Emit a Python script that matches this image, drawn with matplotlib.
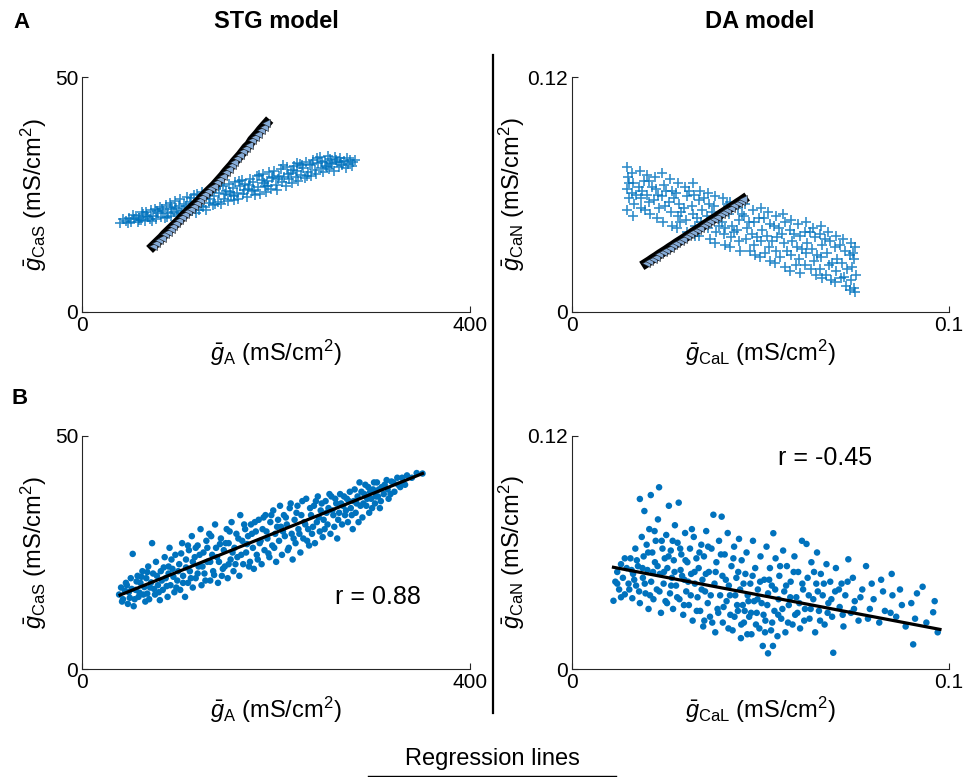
import matplotlib
matplotlib.use("Agg")
import matplotlib.pyplot as plt
import numpy as np

plt.rcParams['font.family'] = ['Liberation Sans', 'DejaVu Sans']
plt.rcParams['mathtext.fontset'] = 'custom'
plt.rcParams['mathtext.rm'] = 'Liberation Sans'
plt.rcParams['mathtext.it'] = 'Liberation Sans:italic'

BLUE = '#0072BD'
TRI_FACE = '#86acd8'

# ---------------- data: panel A, STG model (crosses) ----------------
stg_cross = [(39,19.0),(45,19.4),(48,20.0),(50,19.2),(53,19.8),(55,20.4),(57,19.1),(59,20.0),(61,19.6),(63,20.8),
 (65,19.3),(66,21.2),(68,20.1),(70,19.7),(71,21.6),(73,20.4),(75,22.0),(76,19.8),(78,21.0),(80,22.4),(81,20.3),
 (83,21.5),(85,19.9),(86,22.8),(88,21.0),(90,23.1),(91,20.5),(93,22.0),(95,21.3),(96,23.6),(98,20.8),(100,22.5),
 (101,24.0),(103,21.5),(105,23.0),(106,20.9),(108,24.4),(110,22.2),(111,23.5),(113,21.4),(115,24.8),(116,22.7),
 (118,25.2),(120,21.8),(121,23.9),(123,25.5),(125,22.4),(126,24.3),(128,21.6),(130,25.0),(131,23.2),(133,26.0),
 (135,22.8),(136,24.7),(138,26.4),(140,23.5),(141,25.3),(143,22.9),(145,26.8),(146,24.1),(148,25.8),(150,23.6),
 (151,27.2),(153,24.9),(155,26.3),(156,23.8),(158,27.6),(160,25.4),(161,24.0),(163,26.9),(165,28.0),(166,25.1),
 (168,27.3),(170,24.4),(171,26.2),(173,28.4),(175,25.7),(176,27.7),(178,24.8),(180,28.9),(181,26.5),(183,25.2),
 (185,28.1),(186,29.4),(188,26.8),(190,25.6),(191,27.9),(193,29.8),(195,26.2),(196,28.5),(198,30.1),(200,27.1),
 (201,26.0),(203,29.0),(205,30.4),(206,27.6),(208,28.8),(210,26.9),(211,30.8),(213,28.2),(215,29.6),(216,27.4),
 (218,31.1),(220,28.7),(221,30.0),(223,27.9),(225,31.5),(226,29.2),(228,30.6),(230,28.5),(231,32.0),(233,29.9),
 (235,31.2),(236,28.9),(238,32.4),(240,30.3),(241,29.4),(243,31.8),(245,33.0),(246,30.7),(248,29.8),(250,32.2),
 (251,31.0),(253,33.2),(255,30.4),(256,32.6),(258,31.5),(260,30.1),(261,33.0),(263,31.9),(265,30.8),(266,32.8),
 (268,31.3),(270,32.1),(272,30.7),(274,31.6),(276,32.3),(278,31.1),(281,32.4),
 (42,19.8),(47,18.9),(52,20.6),(58,19.5),(62,21.2),(67,20.4),(72,19.4),(77,21.5),(82,21.9),(87,20.2),(92,22.4),
 (97,22.2),(102,21.0),(107,22.6),(112,24.2),(117,21.1),(122,22.6),(127,24.9),(132,24.0),(137,23.0),(142,27.0),
 (147,25.2),(152,25.6),(157,24.6),(162,27.8),(167,26.0),(172,27.0),(177,25.9),(182,29.2),(187,27.4),(192,26.8),
 (197,28.8),(202,28.3),(207,31.2),(212,29.4),(217,30.2),(222,31.7),(227,31.2),(232,29.0),(237,31.6),(242,32.7),
 (247,32.0),(252,30.9),(257,31.8),(262,32.3),(267,31.9),(273,32.8),(279,32.0)]

stg_tri_x = [73,76,79,82,85,88,91,94,97,100,103,106,109,112,115,118,121,124,127,130,133,136,139,142,145,148,
             151,154,157,160,163,166,169,172,175,178,181,184,187,190]
stg_tri_y = [14.0,14.6,15.2,15.8,16.5,17.1,17.7,18.3,18.9,19.5,20.2,20.8,21.4,22.0,22.6,23.2,23.8,24.5,25.1,25.7,
             26.3,26.9,27.6,28.3,29.0,29.8,30.5,31.2,32.0,32.7,33.4,34.2,35.0,35.6,36.6,37.3,38.0,38.8,39.5,40.2]

# ---------------- data: panel A, DA model (crosses) ----------------
da_cross = [(0.0145,0.074),(0.0148,0.069),(0.0146,0.063),(0.0150,0.058),(0.0147,0.052),
 (0.0160,0.071),(0.0163,0.066),(0.0158,0.061),(0.0165,0.055),(0.0161,0.049),
 (0.0180,0.072),(0.0178,0.064),(0.0184,0.058),(0.0182,0.053),
 (0.0200,0.070),(0.0205,0.067),(0.0198,0.060),(0.0203,0.056),(0.0207,0.050),
 (0.0220,0.069),(0.0224,0.063),(0.0218,0.057),(0.0226,0.048),
 (0.0240,0.071),(0.0243,0.065),(0.0238,0.059),(0.0246,0.054),(0.0241,0.046),
 (0.0260,0.068),(0.0264,0.062),(0.0257,0.056),(0.0262,0.051),(0.0266,0.044),
 (0.0280,0.066),(0.0276,0.061),(0.0284,0.055),(0.0281,0.049),(0.0278,0.043),
 (0.0300,0.064),(0.0304,0.059),(0.0297,0.053),(0.0302,0.047),(0.0306,0.041),
 (0.0320,0.066),(0.0324,0.060),(0.0317,0.054),(0.0322,0.050),(0.0326,0.044),
 (0.0340,0.062),(0.0336,0.057),(0.0344,0.052),(0.0341,0.046),(0.0338,0.039),
 (0.0360,0.061),(0.0364,0.055),(0.0357,0.049),(0.0362,0.043),(0.0366,0.037),
 (0.0380,0.059),(0.0377,0.054),(0.0384,0.048),(0.0381,0.041),(0.0378,0.035),
 (0.0400,0.058),(0.0404,0.052),(0.0397,0.046),(0.0402,0.040),(0.0406,0.034),
 (0.0420,0.056),(0.0417,0.050),(0.0424,0.044),(0.0421,0.038),(0.0418,0.033),
 (0.0440,0.053),(0.0444,0.047),(0.0437,0.042),(0.0442,0.036),(0.0446,0.031),
 (0.0460,0.055),(0.0457,0.049),(0.0464,0.043),(0.0461,0.037),
 (0.0480,0.052),(0.0484,0.046),(0.0477,0.040),(0.0482,0.034),(0.0486,0.029),
 (0.0500,0.053),(0.0497,0.048),(0.0504,0.042),(0.0501,0.036),(0.0498,0.028),
 (0.0520,0.051),(0.0524,0.045),(0.0517,0.039),(0.0522,0.033),(0.0526,0.026),
 (0.0540,0.049),(0.0537,0.044),(0.0544,0.038),(0.0541,0.031),(0.0538,0.025),
 (0.0560,0.050),(0.0564,0.046),(0.0557,0.040),(0.0562,0.035),(0.0566,0.023),
 (0.0580,0.047),(0.0577,0.042),(0.0584,0.036),(0.0581,0.029),(0.0578,0.021),
 (0.0600,0.045),(0.0604,0.039),(0.0597,0.033),(0.0602,0.027),(0.0606,0.020),
 (0.0620,0.046),(0.0617,0.041),(0.0624,0.035),(0.0621,0.030),(0.0618,0.024),
 (0.0640,0.043),(0.0644,0.038),(0.0637,0.032),(0.0642,0.026),(0.0646,0.019),
 (0.0660,0.044),(0.0657,0.040),(0.0664,0.034),(0.0661,0.028),(0.0658,0.022),(0.0663,0.017),
 (0.0680,0.041),(0.0684,0.036),(0.0677,0.030),(0.0682,0.024),(0.0686,0.016),
 (0.0700,0.039),(0.0697,0.033),(0.0704,0.027),(0.0701,0.021),(0.0698,0.015),
 (0.0720,0.037),(0.0724,0.031),(0.0717,0.025),(0.0722,0.018),(0.0726,0.013),
 (0.0740,0.035),(0.0737,0.029),(0.0744,0.023),(0.0741,0.016),(0.0738,0.011),
 (0.0750,0.033),(0.0748,0.027),(0.0752,0.019),(0.0749,0.012),(0.0751,0.010),
 (0.0152,0.066),(0.0170,0.060),(0.0190,0.067),(0.0194,0.052),(0.0213,0.064),(0.0231,0.053),(0.0250,0.062),
 (0.0271,0.058),(0.0290,0.051),(0.0311,0.062),(0.0331,0.048),(0.0350,0.058),(0.0372,0.051),(0.0390,0.044),
 (0.0410,0.055),(0.0430,0.041),(0.0450,0.050),(0.0470,0.046),(0.0490,0.038),(0.0510,0.048),(0.0530,0.036),
 (0.0550,0.043),(0.0570,0.031),(0.0590,0.040),(0.0610,0.032),(0.0630,0.041),(0.0650,0.029),(0.0670,0.037),
 (0.0690,0.025),(0.0710,0.034),(0.0730,0.022),(0.0745,0.030),(0.0473,0.031),(0.0513,0.030),(0.0553,0.028),
 (0.0593,0.024),(0.0633,0.022),(0.0673,0.019),(0.0713,0.017),(0.0287,0.046),(0.0327,0.039),(0.0367,0.046),
 (0.0407,0.043),(0.0227,0.060),(0.0187,0.062)]

da_tri_x = [0.0196,0.0205,0.0214,0.0223,0.0232,0.0241,0.0250,0.0259,0.0268,0.0277,0.0286,0.0295,0.0304,0.0313,
            0.0322,0.0331,0.0340,0.0349,0.0358,0.0367,0.0376,0.0385,0.0394,0.0403,0.0412,0.0421,0.0430,0.0439,
            0.0448,0.0454]
da_tri_y = [0.0248,0.0259,0.0271,0.0282,0.0294,0.0305,0.0316,0.0328,0.0339,0.0351,0.0362,0.0373,0.0385,0.0396,
            0.0408,0.0419,0.0430,0.0442,0.0453,0.0465,0.0476,0.0487,0.0499,0.0510,0.0522,0.0533,0.0544,0.0556,
            0.0567,0.0575]

# ---------------- data: panel B, STG model (dots) ----------------
stg_dots = [(38,16),(40,17.5),(42,15),(45,18.5),(47,14),(48,16.5),(50,19.5),(52,24.7),(53,13.5),
 (55,17),(57,20),(58,15.5),(60,18.5),(62,21),(63,16),(65,14.5),(66,19.5),(68,22),(70,17.5),(72,27),(69,15),
 (73,20.5),(75,16),(76,23),(78,18),(80,14.8),(81,21),(83,17),(85,24),(86,19.5),(88,15.5),(89,22),(90,26),
 (91,18),(93,21.5),(95,16.5),(96,24.5),(98,19),(100,22.5),(101,17),(103,27),(104,20),(106,15.5),(107,23.5),(109,18.5),(110,25.5),
 (111,21),(113,28.5),(114,17.5),(116,24),(117,19.5),(119,26.5),(120,22),(122,30),(123,18),(125,25),(126,20.5),(128,27.5),(129,23),
 (131,29),(132,19),(134,24.5),(135,21),(137,31),(138,26),(140,18.5),(141,23),(143,28),(144,20),(146,25.5),(147,22),(149,30),(150,19.5),
 (151,27),(153,23.5),(154,31.5),(156,21),(157,26),(159,29),(160,24),(162,20),(163,33),(165,27.5),(166,22.5),(168,30),(169,25),
 (171,28.5),(173,23),(174,31),(176,26),(177,21.5),(179,29.5),(180,24.5),(182,32),(183,27),(185,22.5),(186,30),(188,25.5),(189,33),
 (191,28),(193,24),(194,31.5),(196,26.5),(197,34),(199,29),(200,23),(202,32),(203,27.5),(205,30.5),(206,24.5),(208,33),(209,28.5),
 (211,31),(213,26),(214,34.5),(216,29),(217,23.5),(219,32),(220,27),(222,35),(223,30),(225,25),(226,33),(228,28),(229,31.5),
 (231,36.5),(233,30),(234,26.5),(236,33),(237,29),(239,35),(240,27),(242,31.5),(243,37),(245,29.5),(246,34),(248,28.3),(249,32),
 (251,36),(253,31),(254,34.5),(256,29),(257,37),(259,33),(260,30.5),(262,35.5),(263,28),(265,33.5),(266,37.5),(268,31),(269,35),
 (271,33),(273,36.5),(274,31.5),(276,38),(277,34.5),(279,30),(280,36),(282,33.5),(284,37),(286,40),(287,35),(289,32.5),
 (291,37.5),(293,35),(295,39),(296,33.5),(298,36.5),(300,38.5),(302,35.5),(304,40),(305,37),(307,34.5),(309,39),
 (311,37.5),(314,40.5),(316,36.5),(319,40.2),(322,38),(325,41),(328,39),(331,40),(335,41.5),(340,41),(345,42),(351,41.9),
 (41,14.5),(44,16.8),(46,18),(49,15.3),(51,17.2),(54,15),(56,18.8),(59,16.4),(61,19.8),(64,17.6),(67,16.2),(67,20.8),
 (71,18.6),(74,17.2),(77,20),(79,16.5),(82,19),(84,21.8),(87,17.8),(89,20.5),(92,23.5),(94,19.8),(97,17.5),(99,21),
 (102,24.8),(104,18.5),(107,21.8),(109,26.5),(112,19.5),(114,23),(117,26),(119,20.5),(121,24.5),(124,22),(127,19),
 (129,26),(132,23),(133,28.5),(136,20.2),(139,24),(142,26.8),(145,21.5),(148,27),(151,22.5),(152,29.5),(155,25),
 (158,22.5),(161,28),(164,24.5),(167,31),(170,26.8),(172,22),(175,29),(178,31.5),(181,23.5),(184,27.5),(187,32.5),
 (190,29.5),(192,24.8),(195,33),(198,26),(201,30.5),(204,35),(207,29.5),(210,32.5),(212,25.5),(215,35.5),(218,28),
 (221,33.5),(224,29),(227,36),(230,31),(232,27.5),(235,34.5),(238,30.5),(241,36),(244,32.5),(247,35.5),(250,30),
 (252,33.5),(255,37.5),(258,34),(261,36.5),(264,32),(267,35.5),(270,37),(272,34),(275,36),(278,33),(281,38.5),
 (283,35.5),(285,31.5),(288,38),(290,35.5),(292,39.5),(294,36.5),(297,38),(299,34.5),(301,40),(303,37),(306,38.5),
 (308,36),(312,39.5),(315,38.5),(318,37.5),(321,40),(326,39.5),(330,41),(333,39.5)]
stg_fit_x = [39, 351]
stg_fit_y = [15.9, 41.9]
stg_r = 'r = 0.88'

# ---------------- data: panel B, DA model (dots) ----------------
da_dots = [(0.011,0.0352),(0.0115,0.045),(0.012,0.050),(0.0125,0.041),(0.013,0.054),(0.0135,0.047),(0.014,0.0385),(0.0145,0.052),(0.015,0.044),
 (0.0155,0.057),(0.016,0.0365),(0.0162,0.049),(0.0168,0.062),(0.017,0.043),(0.0175,0.053),(0.018,0.0875),(0.018,0.034),(0.0185,0.068),(0.0188,0.047),(0.019,0.058),(0.0192,0.0813),(0.0195,0.039),(0.0198,0.064),
 (0.0200,0.051),(0.0203,0.031),(0.0205,0.072),(0.0209,0.0895),(0.021,0.045),(0.0213,0.060),(0.0216,0.036),(0.022,0.055),(0.0222,0.066),(0.0225,0.041),(0.0228,0.077),(0.0231,0.0935),(0.0233,0.049),(0.0236,0.029),(0.024,0.062),(0.0243,0.044),(0.0246,0.057),(0.0248,0.035),
 (0.025,0.069),(0.0253,0.052),(0.0257,0.084),(0.026,0.039),(0.0262,0.061),(0.0265,0.047),(0.0268,0.031),(0.027,0.056),(0.0273,0.074),(0.0276,0.043),(0.028,0.065),(0.0283,0.0856),(0.0285,0.036),(0.0288,0.051),(0.029,0.059),(0.0295,0.028),(0.0298,0.046),
 (0.030,0.070),(0.0303,0.040),(0.0306,0.055),(0.031,0.033),(0.0313,0.062),(0.0316,0.049),(0.032,0.025),(0.0323,0.068),(0.0326,0.044),(0.033,0.057),(0.0333,0.037),(0.0336,0.052),(0.034,0.030),(0.0343,0.064),(0.0346,0.046),(0.0348,0.022),
 (0.035,0.058),(0.0353,0.040),(0.0356,0.071),(0.036,0.034),(0.0363,0.050),(0.0366,0.027),(0.037,0.062),(0.0375,0.0794),(0.0378,0.044),(0.038,0.019),(0.0383,0.055),(0.0386,0.031),(0.039,0.066),(0.0393,0.038),(0.0397,0.0784),(0.0399,0.048),
 (0.040,0.024),(0.0405,0.059),(0.041,0.035),(0.0413,0.070),(0.0416,0.043),(0.042,0.028),(0.0423,0.053),(0.0426,0.020),(0.043,0.063),(0.0433,0.038),(0.0436,0.047),(0.044,0.030),(0.0443,0.067),(0.0446,0.041),(0.0448,0.016),
 (0.045,0.056),(0.0453,0.033),(0.0456,0.024),(0.046,0.049),(0.0463,0.060),(0.0466,0.038),(0.047,0.027),(0.0473,0.044),(0.0476,0.018),(0.048,0.066),(0.0483,0.035),(0.0486,0.052),(0.049,0.029),(0.0493,0.041),(0.0497,0.021),
 (0.050,0.058),(0.0503,0.034),(0.0506,0.012),(0.051,0.046),(0.0513,0.025),(0.0516,0.063),(0.052,0.0082),(0.052,0.039),(0.0525,0.052),(0.0528,0.020),(0.053,0.043),(0.0534,0.0699),(0.0537,0.030),(0.054,0.057),(0.0545,0.017),(0.0548,0.036),
 (0.055,0.048),(0.0555,0.026),(0.056,0.061),(0.0563,0.040),(0.0566,0.019),(0.057,0.053),(0.0575,0.033),(0.058,0.045),(0.0585,0.023),(0.059,0.058),(0.0595,0.037),(0.0598,0.029),
 (0.060,0.050),(0.0605,0.021),(0.061,0.066),(0.0613,0.041),(0.0618,0.031),(0.0622,0.0644),(0.0625,0.047),(0.063,0.026),(0.0635,0.055),(0.064,0.036),(0.0645,0.019),(0.0648,0.044),
 (0.065,0.060),(0.0655,0.030),(0.066,0.049),(0.0665,0.038),(0.067,0.023),(0.0675,0.054),(0.068,0.034),(0.0685,0.045),(0.0693,0.0085),(0.069,0.027),(0.0698,0.040),
 (0.070,0.052),(0.071,0.032),(0.0715,0.044),(0.072,0.022),(0.0725,0.038),(0.0733,0.0565),(0.074,0.029),(0.0745,0.047),(0.075,0.035),(0.076,0.025),(0.077,0.041),(0.078,0.053),(0.079,0.031),
 (0.080,0.036),(0.0815,0.024),(0.082,0.046),(0.083,0.030),(0.0848,0.049),(0.085,0.038),(0.086,0.027),(0.087,0.041),(0.0885,0.022),(0.09,0.034),(0.0905,0.0128),(0.091,0.026),(0.093,0.0424),(0.094,0.024),(0.0958,0.0293),(0.097,0.019),
 (0.012,0.044),(0.013,0.037),(0.014,0.057),(0.0152,0.041),(0.0158,0.051),(0.0165,0.046),(0.0172,0.056),(0.0178,0.040),(0.0187,0.052),
 (0.0193,0.044),(0.0202,0.060),(0.0207,0.038),(0.0215,0.050),(0.0219,0.071),(0.0227,0.053),(0.0232,0.040),(0.0238,0.066),(0.0244,0.050),
 (0.0252,0.034),(0.0256,0.058),(0.0263,0.043),(0.0267,0.066),(0.0272,0.050),(0.0279,0.037),(0.0287,0.062),(0.0292,0.048),(0.0297,0.033),
 (0.0301,0.056),(0.0308,0.045),(0.0315,0.038),(0.0318,0.072),(0.0325,0.050),(0.0331,0.030),(0.0338,0.060),(0.0344,0.041),(0.0351,0.025),
 (0.0355,0.049),(0.0361,0.063),(0.0368,0.038),(0.0372,0.024),(0.0381,0.050),(0.0388,0.029),(0.0395,0.059),(0.0402,0.032),(0.0408,0.046),
 (0.0415,0.021),(0.0419,0.038),(0.0428,0.057),(0.0431,0.027),(0.0438,0.033),(0.0441,0.050),(0.0449,0.023),(0.0455,0.044),(0.0458,0.030),
 (0.0465,0.018),(0.0468,0.035),(0.0475,0.029),(0.0479,0.048),(0.0488,0.023),(0.0492,0.036),(0.0499,0.045),(0.0508,0.028),(0.0512,0.019),
 (0.0518,0.033),(0.0523,0.046),(0.0531,0.024),(0.0533,0.012),(0.0539,0.041),(0.0547,0.028),(0.0552,0.053),(0.0558,0.031),(0.0568,0.043),
 (0.0573,0.024),(0.0579,0.037),(0.0588,0.050),(0.0592,0.028),(0.0603,0.034),(0.0611,0.044),(0.0616,0.025),(0.0628,0.038),(0.0633,0.031),
 (0.0642,0.050),(0.0652,0.040),(0.0658,0.025),(0.0668,0.044),(0.0678,0.029),(0.0688,0.036),(0.0708,0.041),(0.0718,0.028),(0.0731,0.045),
 (0.0748,0.031),(0.0765,0.037),(0.0785,0.026),(0.0795,0.044),(0.0825,0.040),(0.0845,0.029),(0.0875,0.033),(0.0915,0.039),(0.0962,0.035)]
da_fit_x = [0.011, 0.0976]
da_fit_y = [0.0524, 0.0205]
da_r = 'r = -0.45'

stg_xlim, stg_ylim = (0, 400), (0, 50)
da_xlim, da_ylim = (0, 0.1), (0, 0.12)
stg_xticks, stg_yticks = [0, 400], [0, 50]
da_xticks, da_yticks = [0, 0.1], [0, 0.12]
stg_xticklabels, stg_yticklabels = ['0', '400'], ['0', '50']
da_xticklabels, da_yticklabels = ['0', '0.1'], ['0', '0.12']

stg_xlabel = r'$\bar{g}_{\rm A}$ (mS/cm$^2$)'
stg_ylabel = r'$\bar{g}_{\rm CaS}$ (mS/cm$^2$)'
da_xlabel = r'$\bar{g}_{\rm CaL}$ (mS/cm$^2$)'
da_ylabel = r'$\bar{g}_{\rm CaN}$ (mS/cm$^2$)'

# ---------------- figure ----------------
fig = plt.figure(figsize=(9.65, 7.77), dpi=100)
W, H = 965, 777
def ax_at(x0, x1, y0, y1):
    return fig.add_axes([x0 / W, 1 - y1 / H, (x1 - x0) / W, (y1 - y0) / H])

axA1 = ax_at(82.3, 470, 77.3, 311.7)
axA2 = ax_at(572, 949, 77.3, 311.7)
axB1 = ax_at(82.3, 470, 435.7, 669.3)
axB2 = ax_at(572, 949, 435.7, 669.3)

def style(ax, xlim, ylim, xt, yt, xtl, ytl, xl, yl, ypad):
    ax.set_xlim(*xlim); ax.set_ylim(*ylim)
    ax.set_xticks(xt); ax.set_yticks(yt)
    ax.set_xticklabels(xtl); ax.set_yticklabels(ytl)
    for s in ['top', 'right']:
        ax.spines[s].set_visible(False)
    for s in ['left', 'bottom']:
        ax.spines[s].set_color('#262626')
        ax.spines[s].set_linewidth(0.8)
    ax.tick_params(direction='in', length=4, width=0.8, colors='#262626',
                   labelsize=15, labelcolor='black', pad=3)
    ax.set_xlabel(xl, fontsize=17, labelpad=2)
    ax.set_ylabel(yl, fontsize=17, labelpad=ypad)

def tri_chain(ax, xs, ys):
    ax.plot(xs, ys, color='black', lw=7, solid_capstyle='projecting', zorder=3)
    ax.plot(xs, ys, linestyle='none', marker='<', markersize=5.5,
            markerfacecolor=TRI_FACE, markeredgecolor='#1a1a1a', markeredgewidth=0.4, zorder=4)

# Panel A STG
sx, sy = zip(*stg_cross)
axA1.scatter(sx, sy, marker='+', s=45, color=BLUE, linewidths=1.2, alpha=0.8, zorder=2)
tri_chain(axA1, stg_tri_x, stg_tri_y)
style(axA1, stg_xlim, stg_ylim, stg_xticks, stg_yticks, stg_xticklabels, stg_yticklabels, stg_xlabel, stg_ylabel, 4)

# Panel A DA
dx, dy = zip(*da_cross)
axA2.scatter(dx, dy, marker='+', s=60, color=BLUE, linewidths=1.2, alpha=0.8, zorder=2)
tri_chain(axA2, da_tri_x, da_tri_y)
style(axA2, da_xlim, da_ylim, da_xticks, da_yticks, da_xticklabels, da_yticklabels, da_xlabel, da_ylabel, 0.5)

# Panel B STG
bx, by = zip(*stg_dots)
axB1.scatter(bx, by, s=22, color=BLUE, edgecolors='none', zorder=2)
axB1.plot(stg_fit_x, stg_fit_y, color='black', lw=2.3, zorder=3)
axB1.text(261, 15.5, stg_r, fontsize=18, va='center', ha='left')
style(axB1, stg_xlim, stg_ylim, stg_xticks, stg_yticks, stg_xticklabels, stg_yticklabels, stg_xlabel, stg_ylabel, 4)

# Panel B DA
ex, ey = zip(*da_dots)
axB2.scatter(ex, ey, s=22, color=BLUE, edgecolors='none', zorder=2)
axB2.plot(da_fit_x, da_fit_y, color='black', lw=2.3, zorder=3)
axB2.text(0.0547, 0.1084, da_r, fontsize=18, va='center', ha='left')
style(axB2, da_xlim, da_ylim, da_xticks, da_yticks, da_xticklabels, da_yticklabels, da_xlabel, da_ylabel, 0.5)

# Titles, panel letters, separators
fig.text(276 / W, 1 - 22 / H, 'STG model', fontsize=17, fontweight='bold', ha='center', va='center')
fig.text(760 / W, 1 - 22 / H, 'DA model', fontsize=17, fontweight='bold', ha='center', va='center')
fig.text(22 / W, 1 - 22 / H, 'A', fontsize=16, fontweight='bold', ha='center', va='center')
fig.text(20 / W, 1 - 398 / H, 'B', fontsize=16, fontweight='bold', ha='center', va='center')
fig.add_artist(plt.Line2D([493 / W, 493 / W], [1 - 55 / H, 1 - 713 / H], color='black', lw=1.6))
fig.text(492 / W, 1 - 759 / H, 'Regression lines', fontsize=17, ha='center', va='center')
fig.add_artist(plt.Line2D([368 / W, 616 / W], [1 - 776 / H, 1 - 776 / H], color='black', lw=1.0))

fig.savefig('out.png', dpi=100)
